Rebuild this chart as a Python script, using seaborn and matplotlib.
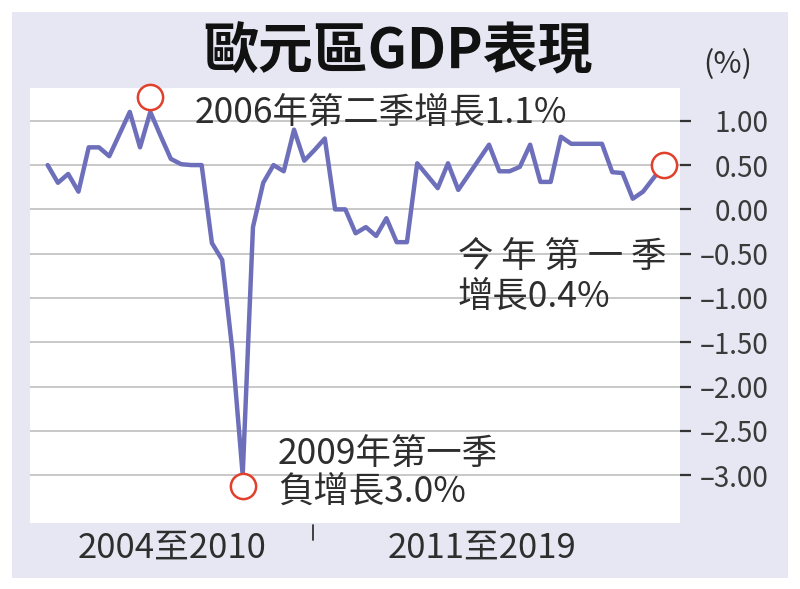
import matplotlib
matplotlib.use("Agg")
import matplotlib.pyplot as plt
import matplotlib.transforms as mtransforms
from matplotlib.patches import Rectangle
import seaborn as sns
import pandas as pd

# ---- data ----
gdp_growth = [0.5, 0.3, 0.4, 0.2, 0.7, 0.7, 0.6, 0.85, 1.1, 0.7,
              1.1, 0.83, 0.57, 0.51, 0.5, 0.5, -0.38, -0.57, -1.6, -3.0,
              -0.2, 0.3, 0.5, 0.43, 0.9, 0.55, 0.67, 0.8, 0.0, 0.0,
              -0.27, -0.2, -0.3, -0.1, -0.37, -0.37, 0.52, 0.38, 0.24, 0.52,
              0.22, 0.39, 0.56, 0.73, 0.43, 0.43, 0.48, 0.73, 0.31, 0.31,
              0.82, 0.74, 0.74, 0.74, 0.74, 0.42, 0.41, 0.12, 0.2, 0.35, 0.5]
quarter_idx = list(range(len(gdp_growth)))
y_ticks = [1.0, 0.5, 0.0, -0.5, -1.0, -1.5, -2.0, -2.5, -3.0]
period_labels = ["2004至2010", "2011至2019"]
title = "歐元區GDP表現"
unit = "(%)"
note_peak = "2006年第二季增長1.1%"
note_trough = ["2009年第一季", "負增長3.0%"]
note_last = ["今 年 第 一 季", "增長0.4%"]
highlight_idx = [10, 19, 60]   # peak, trough, latest

df = pd.DataFrame({"q": quarter_idx, "v": gdp_growth})

sns.set_style("white")
plt.rcParams["font.family"] = ["Noto Sans CJK TC", "DejaVu Sans"]
plt.rcParams["axes.unicode_minus"] = False

W, H = 800, 589
fig = plt.figure(figsize=(8, 5.89), dpi=100, facecolor="white")
bg = Rectangle((12 / W, 1 - 578 / H), 776 / W, 566 / H,
               transform=fig.transFigure, facecolor="#e7e7f3",
               edgecolor="none", zorder=-10)
fig.add_artist(bg)

ax = fig.add_axes([30 / W, 1 - 523 / H, 650 / W, 435 / H])
ax.set_zorder(2)
ax.set_facecolor("white")

sns.lineplot(data=df, x="q", y="v", ax=ax, color="#6d6fbb", linewidth=3.2,
             zorder=3)

ax.set_xlim(-1.72, 61.6)
ax.set_ylim(-3.54, 1.37)

# highlight circles
offsets = [10.8, -8.0, 0.0]
for i, off in zip(highlight_idx, offsets):
    tr = mtransforms.offset_copy(ax.transData, fig=fig, x=0, y=off, units="points")
    ax.scatter([quarter_idx[i]], [gdp_growth[i]], s=330, facecolor="white",
               edgecolor="#e0402c", linewidth=1.8, transform=tr, zorder=5,
               clip_on=False)

# grid and axes
ax.set_yticks(y_ticks)
ax.grid(axis="y", color="#c8c8c8", linewidth=1.4, zorder=1)
ax.grid(axis="x", visible=False)
ax.set_axisbelow(True)
for s in ax.spines.values():
    s.set_visible(False)
ax.yaxis.tick_right()
ax.set_yticklabels([("–" if t < 0 else "") + f"{abs(t):.2f}" for t in y_ticks])
ax.tick_params(axis="y", direction="out", length=8, width=1.6, color="#333333",
               pad=56, labelsize=20, labelcolor="#3a3a3a")
for lab in ax.get_yticklabels():
    lab.set_horizontalalignment("right")
ax.set_xticks([])
ax.set_xlabel("")
ax.set_ylabel("")

# divider tick between the two periods
ax.plot([0.435, 0.435], [-0.005, -0.04], transform=ax.transAxes, clip_on=False,
        color="#333333", linewidth=1.3)

txt = "#2e2e2e"
fig.text(398 / W, 1 - 52 / H, title, ha="center", va="center", fontsize=39.5,
         fontweight="bold", color="#111111")
fig.text(728 / W, 1 - 65 / H, unit, ha="center", va="center", fontsize=22,
         color=txt)
ann = dict(ha="left", va="center", fontsize=25.5, color=txt, zorder=10)
fig.text(195 / W, 1 - 113 / H, note_peak, **ann)
fig.text(278 / W, 1 - 455 / H, note_trough[0], **ann)
fig.text(278 / W, 1 - 492 / H, note_trough[1], **ann)
fig.text(458 / W, 1 - 258 / H, note_last[0], **ann)
fig.text(458 / W, 1 - 297 / H, note_last[1], **ann)
fig.text(172 / W, 1 - 548 / H, period_labels[0], ha="center", va="center",
         fontsize=25, color=txt)
fig.text(482 / W, 1 - 548 / H, period_labels[1], ha="center", va="center",
         fontsize=25, color=txt)

fig.savefig("out.png", dpi=100, facecolor="white")
